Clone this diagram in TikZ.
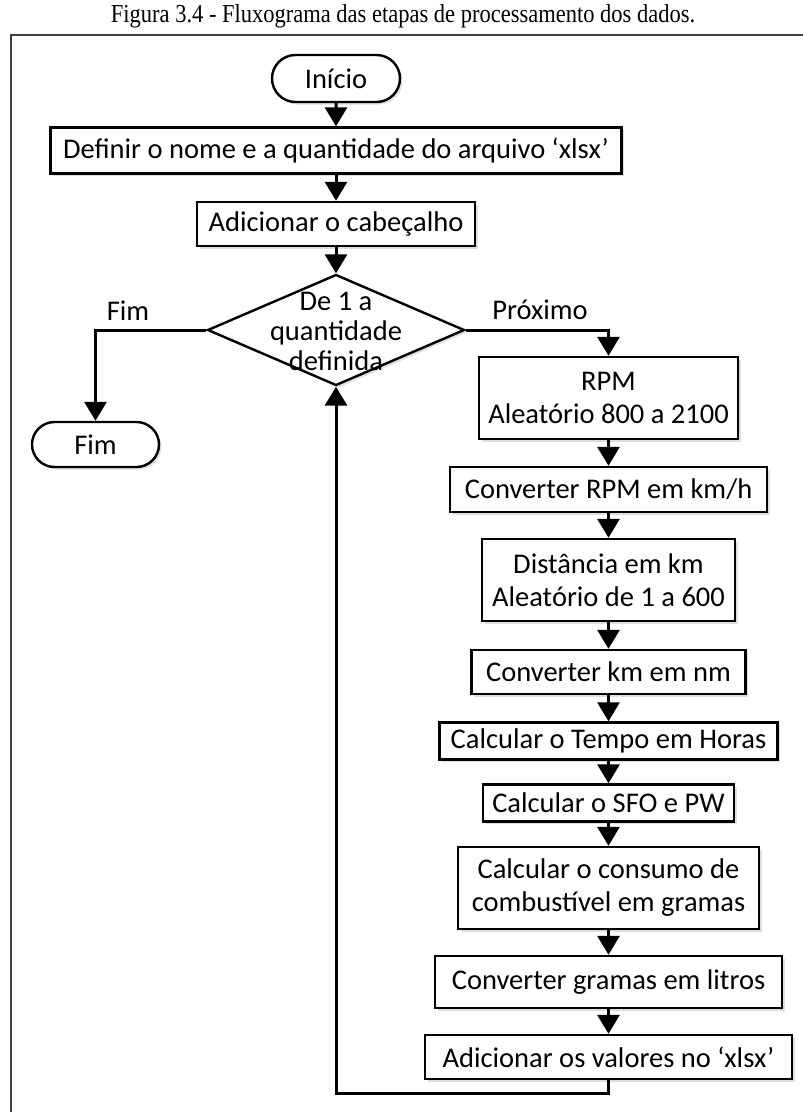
\documentclass[tikz,border=0pt]{standalone}
\usepackage{graphicx}
\usepackage{fontspec}
\setmainfont{Carlito}
\newfontfamily\titlefont{Liberation Serif}
\usetikzlibrary{arrows.meta,shapes.geometric,shapes.misc,shadows}
\begin{document}
\begin{tikzpicture}[x=1pt,y=-1pt,
  every node/.style={font=\fontsize{28.5}{33}\selectfont},
  shade box/.style={drop shadow={shadow xshift=2.5pt, shadow yshift=-2.5pt, fill=black!13, opacity=1}},
  box/.style={draw, line width=2.4pt, fill=white, inner sep=0pt, align=center, shade box},
  term/.style={box, rounded rectangle},
  flow/.style={line width=3pt, -{Triangle[width=22pt,length=19pt]}},
  lbl/.style={anchor=base}]
\useasboundingbox (0,0) rectangle (803,1112);

% caption and frame
\node[font=\titlefont\fontsize{22.5}{26}\selectfont] (title) at (403,16)
  {\scalebox{1}[1.15]{Figura 3.4 - Fluxograma das etapas de processamento dos dados.}};
\draw[line width=1.6pt, black!75] (803,35) -- (11,35) -- (11,1112);

% left column
\node[term, minimum width=128pt, minimum height=47pt] (ini) at (336,78.5) {Início};
\node[box, minimum width=571pt, minimum height=46pt] (b1) at (336,150.5) {Definir o nome e a quantidade do arquivo ‘xlsx’};
\node[box, minimum width=278pt, minimum height=44pt] (b2) at (336,224) {Adicionar o cabeçalho};
\node[draw, diamond, line width=2.4pt, fill=white, minimum width=257pt, minimum height=111pt, inner sep=0pt, shade box] (dec) at (336,330) {};
\node[align=center, font=\fontsize{28.5}{30}\selectfont] (dect) at (336,331) {De 1 a\\quantidade\\definida};
\node[term, minimum width=127pt, minimum height=45pt] (fim) at (95.5,444.5) {Fim};

% right column
\node[box, minimum width=259pt, minimum height=82pt] (rpm) at (608.5,398) {RPM\\Aleatório 800 a 2100};
\node[box, minimum width=317pt, minimum height=45pt] (conv) at (608.5,489.5) {Converter RPM em km/h};
\node[box, minimum width=253pt, minimum height=82pt] (dist) at (608.5,580) {Distância em km\\Aleatório de 1 a 600};
\node[box, minimum width=274pt, minimum height=44pt] (nm) at (608.5,672) {Converter km em nm};
\node[box, minimum width=338pt, minimum height=37pt] (tempo) at (608.5,741) {Calcular o Tempo em Horas};
\node[box, minimum width=251pt, minimum height=37pt] (sfo) at (608.5,803) {Calcular o SFO e PW};
\node[box, minimum width=301pt, minimum height=82pt] (cons) at (608.5,888) {Calcular o consumo de\\combustível em gramas};
\node[box, minimum width=347pt, minimum height=52pt] (gram) at (608.5,982) {Converter gramas em litros};
\node[box, minimum width=367pt, minimum height=44pt] (val) at (608.5,1057) {Adicionar os valores no ‘xlsx’};

% branch labels
\node[lbl] (lfim) at (128,320) {Fim};
\node[lbl] (lprox) at (540,319) {Próximo};

% connectors
\draw[flow] (ini) -- (b1);
\draw[flow] (b1) -- (b2);
\draw[flow] (b2) -- (dec);
\draw[flow] (dec.west) -| (fim.north);
\draw[flow] (dec.east) -| (rpm.north);
\draw[flow] (rpm) -- (conv);
\draw[flow] (conv) -- (dist);
\draw[flow] (dist) -- (nm);
\draw[flow] (nm) -- (tempo);
\draw[flow] (tempo) -- (sfo);
\draw[flow] (sfo) -- (cons);
\draw[flow] (cons) -- (gram);
\draw[flow] (gram) -- (val);
\coordinate (loopa) at (608.5,1093);
\coordinate (loopb) at (336,1093);
\draw[flow] (val.south) -- (loopa) -- (loopb) -- (dec.south);
\end{tikzpicture}
\end{document}
